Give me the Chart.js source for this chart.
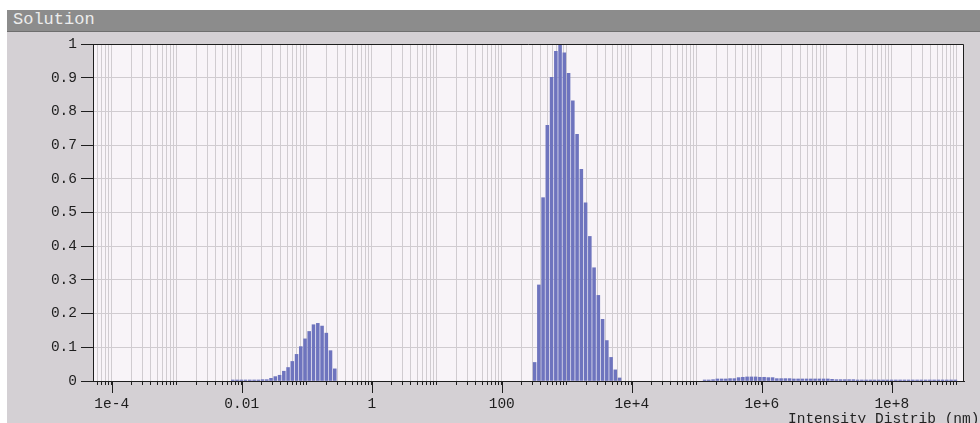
<!DOCTYPE html>
<html>
<head>
<meta charset="utf-8">
<title>Solution</title>
<script src="https://cdn.jsdelivr.net/npm/chart.js@4/dist/chart.umd.min.js"></script>
<style>
  html, body {
    margin: 0;
    width: 980px;
    height: 423px;
    overflow: hidden;
    background: #ffffff;
  }
  #panel {
    position: absolute;
    left: 7px;
    top: 10px;
    right: 0;
    bottom: 0;
    background: #d4d0d4;
  }
  #title-bar {
    position: absolute;
    left: 0;
    top: 0;
    right: 0;
    height: 21px;
    line-height: 21px;
    padding-left: 6px;
    background: #8c8c8c;
    border-bottom: 1px solid #6e6e6e;
    color: #ececec;
    font: 17px "Liberation Mono", monospace;
  }
  #dist-chart {
    position: absolute;
    left: 0;
    top: 0;
  }
  #axis-title {
    position: absolute;
    left: 788px;
    top: 412px;
    white-space: nowrap;
    color: #222222;
    font: 14.5px/14px "Liberation Mono", monospace;
  }
</style>
</head>
<body>
<div id="panel"><div id="title-bar">Solution</div></div>
<canvas id="dist-chart" width="980" height="423"></canvas>
<div id="axis-title">Intensity Distrib (nm)</div>

<script>
// diameters (nm) and relative intensity, one array pair per population
var fineSizes = [
  0.00728, 0.00847, 0.00984, 0.0114, 0.0133, 0.0155, 0.0180, 0.0209, 0.0243,
  0.0282, 0.0328, 0.0382, 0.0444, 0.0516, 0.0599, 0.0697, 0.0810, 0.0941,
  0.109, 0.127, 0.148, 0.172, 0.200, 0.232, 0.270
];
var fineIntensity = [
  0.003, 0.003, 0.003, 0.003, 0.003, 0.003, 0.003, 0.004, 0.004,
  0.008, 0.013, 0.017, 0.029, 0.040, 0.058, 0.079, 0.102, 0.125,
  0.147, 0.167, 0.171, 0.163, 0.142, 0.090, 0.036
];

var mainSizes = [
  320, 372, 432, 502, 584, 679, 789, 917, 1066, 1239, 1441,
  1675, 1947, 2263, 2630, 3058, 3555, 4132, 4804, 5584, 6492
];
var mainIntensity = [
  0.055, 0.285, 0.544, 0.759, 0.901, 0.978, 1.0, 0.974, 0.913, 0.831, 0.732,
  0.628, 0.529, 0.429, 0.336, 0.254, 0.183, 0.120, 0.070, 0.033, 0.009
];

var coarseSizes = [
  1.32e5, 1.53e5, 1.78e5, 2.07e5, 2.41e5, 2.80e5, 3.25e5, 3.78e5, 4.40e5, 5.11e5,
  5.94e5, 6.91e5, 8.03e5, 9.33e5, 1.085e6, 1.261e6, 1.466e6, 1.704e6, 1.981e6, 2.303e6,
  2.677e6, 3.112e6, 3.618e6, 4.206e6, 4.889e6, 5.683e6, 6.607e6, 7.680e6, 8.928e6, 1.038e7,
  1.206e7, 1.403e7, 1.630e7, 1.895e7, 2.203e7, 2.561e7, 2.977e7, 3.461e7, 4.024e7, 4.677e7,
  5.437e7, 6.321e7, 7.348e7, 8.543e7, 9.929e7, 1.154e8, 1.342e8, 1.560e8, 1.813e8, 2.108e8,
  2.450e8, 2.848e8, 3.311e8, 3.849e8, 4.475e8, 5.202e8, 6.047e8, 7.030e8, 8.172e8, 9.497e8
];
var coarseIntensity = [
  0.003, 0.003, 0.004, 0.006, 0.006, 0.006, 0.007, 0.007, 0.010, 0.011,
  0.012, 0.012, 0.012, 0.011, 0.011, 0.010, 0.010, 0.007, 0.007, 0.007,
  0.007, 0.006, 0.006, 0.006, 0.006, 0.006, 0.006, 0.006, 0.006, 0.006,
  0.005, 0.004, 0.004, 0.004, 0.004, 0.004, 0.003, 0.003, 0.003, 0.003,
  0.003, 0.003, 0.003, 0.003, 0.003, 0.003, 0.003, 0.003, 0.003, 0.003,
  0.003, 0.003, 0.003, 0.003, 0.003, 0.003, 0.003, 0.003, 0.003, 0.003
];

// labelled decades on the size axis
var xLabelValues = [1e-4, 0.01, 1, 100, 1e4, 1e6, 1e8];
var xLabelText = ["1e-4", "0.01", "1", "100", "1e+4", "1e+6", "1e+8"];

var X_MIN = 5.15e-5;
var X_MAX = 1.29e9;

(function () {
  var BAR_COLOR = "rgb(110, 116, 190)";
  var GRID_COLOR = "#d0ccd0";
  var INK = "#1e1e1e";
  var FONT = { family: "'Liberation Mono', monospace", size: 14.5 };

  function toPoints(sizes, values) {
    return sizes.map(function (d, i) { return { x: d, y: values[i] }; });
  }

  function labelIndex(v) {
    for (var i = 0; i < xLabelValues.length; i++) {
      if (Math.abs(Math.log10(v) - Math.log10(xLabelValues[i])) < 1e-6) return i;
    }
    return -1;
  }

  // plot background, outer frame and the long ticks under labelled decades
  var framePlugin = {
    id: "frame",
    beforeDraw: function (chart) {
      var a = chart.chartArea;
      var ctx = chart.ctx;
      ctx.save();
      ctx.fillStyle = "#f8f4f8";
      ctx.fillRect(a.left, a.top, a.right - a.left, a.bottom - a.top);
      ctx.restore();
    },
    afterDraw: function (chart) {
      var a = chart.chartArea;
      var ctx = chart.ctx;
      var xs = chart.scales.x;
      ctx.save();
      ctx.strokeStyle = INK;
      ctx.lineWidth = 1;
      ctx.beginPath();
      ctx.moveTo(Math.round(a.left) + 0.5, Math.round(a.top) + 0.5);
      ctx.lineTo(Math.round(a.right) - 0.5, Math.round(a.top) + 0.5);
      ctx.lineTo(Math.round(a.right) - 0.5, Math.round(a.bottom) + 0.5);
      xLabelValues.forEach(function (v) {
        var px = Math.round(xs.getPixelForValue(v)) + 0.5;
        ctx.moveTo(px, a.bottom);
        ctx.lineTo(px, a.bottom + 12);
      });
      ctx.stroke();
      ctx.restore();
    }
  };

  function init() {
    var points = toPoints(fineSizes, fineIntensity)
      .concat(toPoints(mainSizes, mainIntensity))
      .concat(toPoints(coarseSizes, coarseIntensity));

    new Chart(document.getElementById("dist-chart"), {
      type: "bar",
      data: {
        datasets: [{
          data: points,
          backgroundColor: BAR_COLOR,
          borderWidth: 0,
          barThickness: 2.9
        }]
      },
      options: {
        responsive: false,
        animation: false,
        layout: { padding: { left: 0, right: 16, top: 44, bottom: 0 } },
        plugins: {
          legend: { display: false },
          tooltip: { enabled: false }
        },
        scales: {
          x: {
            type: "logarithmic",
            min: X_MIN,
            max: X_MAX,
            offset: false,
            afterBuildTicks: function (scale) {
              var ticks = [];
              for (var e = -5; e <= 9; e++) {
                for (var m = 1; m <= 9; m++) {
                  var v = Number((m * Math.pow(10, e)).toPrecision(3));
                  if (v >= X_MIN && v <= X_MAX) ticks.push({ value: v });
                }
              }
              scale.ticks = ticks;
            },
            afterFit: function (scale) { scale.height = 42; },
            grid: { color: GRID_COLOR, tickColor: INK, tickLength: 4, offset: false },
            border: { color: INK },
            ticks: {
              autoSkip: false,
              maxRotation: 0,
              minRotation: 0,
              padding: 10,
              color: INK,
              font: FONT,
              callback: function (value) {
                var i = labelIndex(value);
                return i >= 0 ? xLabelText[i] : "";
              }
            }
          },
          y: {
            min: 0,
            max: 1,
            afterFit: function (scale) { scale.width = 93; },
            grid: { color: GRID_COLOR, tickColor: INK, tickLength: 12 },
            border: { color: INK },
            ticks: {
              stepSize: 0.1,
              padding: 4,
              color: INK,
              font: FONT,
              callback: function (v) { return String(Math.round(v * 10) / 10); }
            }
          }
        }
      },
      plugins: [framePlugin]
    });
  }

  document.addEventListener("DOMContentLoaded", init);
})();
</script>
</body>
</html>
